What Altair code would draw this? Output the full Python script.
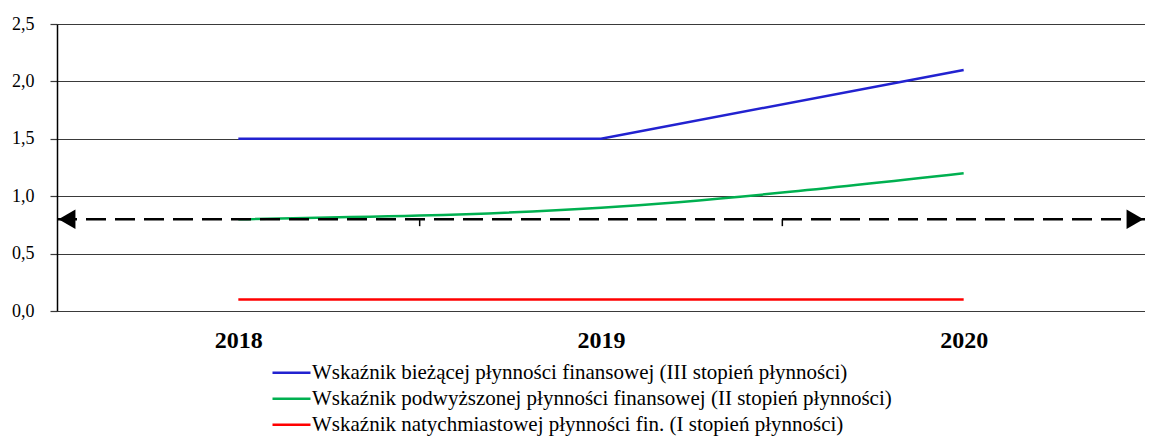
import altair as alt
import pandas as pd

years = ["2018", "2019", "2020"]
series = [
    "Wskaźnik bieżącej płynności finansowej (III stopień płynności)",
    "Wskaźnik podwyższonej płynności finansowej (II stopień płynności)",
    "Wskaźnik natychmiastowej płynności fin. (I stopień płynności)",
]
colors = ["#2222D0", "#00B050", "#FF0000"]
blue_vals = [1.5, 1.5, 2.1]
green_vals = [0.8, 0.9, 1.2]
red_vals = [0.1, 0.1, 0.1]
threshold = 0.8
y_ticks = [0.0, 0.5, 1.0, 1.5, 2.0, 2.5]
band_pos = [0, 1, 2, 3]  # band edges along the category axis

rows = []
for s, vals in zip(series, [blue_vals, green_vals, red_vals]):
    for yr, v in zip(years, vals):
        rows.append({"rok": yr, "seria": s, "wartosc": v})
df = pd.DataFrame(rows)
df_lin = df[df["seria"] != series[1]]
df_smooth = df[df["seria"] == series[1]]

FONT = "Liberation Serif"

x_scale = alt.Scale(type="point", padding=0.5)
x_enc = alt.X(
    "rok:N", sort=years, scale=x_scale,
    axis=alt.Axis(title=None, labelAngle=0, ticks=False, domain=False,
                  labelFont=FONT, labelFontSize=24, labelFontWeight="bold",
                  labelColor="black", labelPadding=17, grid=False),
)
x_enc_noaxis = alt.X("rok:N", sort=years, scale=x_scale, axis=None)
y_enc = alt.Y(
    "wartosc:Q",
    scale=alt.Scale(domain=[0, 2.5], nice=False),
    axis=alt.Axis(title=None, values=y_ticks, grid=True, gridColor="#3a3a3a",
                  gridWidth=1.2, tickColor="#3a3a3a", tickSize=7, tickWidth=1.2,
                  domainColor="black", domainWidth=1.5,
                  labelFont=FONT, labelFontSize=18, labelColor="black",
                  labelPadding=16,
                  labelExpr="replace(format(datum.value, '.1f'), '.', ',')"),
)
color_enc = alt.Color(
    "seria:N",
    scale=alt.Scale(domain=series, range=colors),
    legend=alt.Legend(
        title=None, orient="none", legendX=214, legendY=336,
        symbolType="stroke", symbolSize=1444, symbolStrokeWidth=2.5,
        labelFont=FONT, labelFontSize=21, labelColor="black", labelOffset=0,
        clipHeight=25.5, rowPadding=0, labelLimit=0, padding=0, direction="vertical",
    ),
)

lines_lin = alt.Chart(df_lin).mark_line(strokeWidth=2.5).encode(
    x=x_enc, y=y_enc, color=color_enc)
lines_smooth = alt.Chart(df_smooth).mark_line(strokeWidth=2.5, interpolate="monotone").encode(
    x=x_enc_noaxis, y=y_enc, color=color_enc)

qx = alt.Scale(domain=[band_pos[0], band_pos[-1]], nice=False, zero=False)
df_thr = pd.DataFrame({"x": [band_pos[0]], "x2": [band_pos[-1]], "wartosc": [threshold]})
thr = alt.Chart(df_thr).mark_rule(color="black", strokeWidth=2.5, strokeDash=[20, 9]).encode(
    x=alt.X("x:Q", scale=qx, axis=None), x2="x2:Q", y="wartosc:Q")

df_ticks = pd.DataFrame({"x": band_pos[1:-1], "wartosc": [threshold] * 2})
ticks = alt.Chart(df_ticks).mark_rule(color="black", strokeWidth=1.5, y2Offset=7).encode(
    x=alt.X("x:Q", scale=qx, axis=None), y="wartosc:Q", y2="wartosc:Q")

df_al = pd.DataFrame({"x": [band_pos[0]], "wartosc": [threshold]})
df_ar = pd.DataFrame({"x": [band_pos[-1]], "wartosc": [threshold]})
arrow_l = alt.Chart(df_al).mark_point(shape="triangle-left", filled=True, size=380,
                                      color="black", opacity=1, xOffset=10).encode(
    x=alt.X("x:Q", scale=qx, axis=None), y="wartosc:Q")
arrow_r = alt.Chart(df_ar).mark_point(shape="triangle-right", filled=True, size=380,
                                      color="black", opacity=1, xOffset=-10).encode(
    x=alt.X("x:Q", scale=qx, axis=None), y="wartosc:Q")

chart = alt.layer(lines_lin, lines_smooth, thr, ticks, arrow_l, arrow_r).resolve_scale(
    x="independent"
).properties(
    width=1088, height=287,
    autosize=alt.AutoSizeParams(type="none"),
    padding={"left": 49, "top": 16, "right": 0, "bottom": 126},
).configure_view(stroke=None).configure(background="white")

chart.save("out.html", embed_options={"renderer": "svg", "actions": False})
